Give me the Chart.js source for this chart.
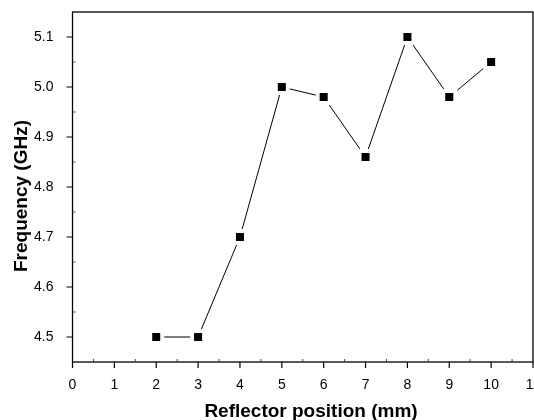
<!DOCTYPE html>
<html>
<head>
<meta charset="utf-8">
<script src="https://cdn.jsdelivr.net/npm/chart.js@4.4.0/dist/chart.umd.min.js"></script>
<style>
    html, body { margin: 0; padding: 0; background: #fff; }
    #grafica { display: block; }
</style>
</head>
<body>
<canvas id="grafica" width="534" height="420"></canvas>
<script>
// Datos
const posiciones = [2, 3, 4, 5, 6, 7, 8, 9, 10];
const frecuencias = [4.5, 4.5, 4.7, 5.0, 4.98, 4.86, 5.1, 4.98, 5.05];
const xTicks = [0, 1, 2, 3, 4, 5, 6, 7, 8, 9, 10, 11];
const yTicks = [4.5, 4.6, 4.7, 4.8, 4.9, 5.0, 5.1];
const xTitulo = 'Reflector position (mm)';
const yTitulo = 'Frequency (GHz)';

const fuente = '"Liberation Sans", Arial, sans-serif';

// Marco, marcas de los ejes y títulos
const marcoPlugin = {
    id: 'marco',
    afterDatasetsDraw(chart) {
        const { ctx, chartArea: a, scales: { x, y } } = chart;
        ctx.save();
        ctx.strokeStyle = '#000';
        ctx.lineWidth = 1.3;
        ctx.strokeRect(a.left, a.top, a.right - a.left, a.bottom - a.top);

        ctx.lineWidth = 1.2;
        ctx.beginPath();
        xTicks.forEach(v => {
            const px = x.getPixelForValue(v);
            ctx.moveTo(px, a.bottom);
            ctx.lineTo(px, a.bottom + 6);
        });
        yTicks.forEach(v => {
            const py = y.getPixelForValue(v);
            ctx.moveTo(a.left, py);
            ctx.lineTo(a.left - 6, py);
        });
        ctx.stroke();

        // marcas menores hacia dentro
        ctx.lineWidth = 1;
        ctx.strokeStyle = '#444';
        ctx.beginPath();
        for (let i = 0; i < xTicks.length - 1; i++) {
            const px = x.getPixelForValue((xTicks[i] + xTicks[i + 1]) / 2);
            ctx.moveTo(px, a.bottom);
            ctx.lineTo(px, a.bottom - 3);
        }
        const yMenores = [4.45, 4.55, 4.65, 4.75, 4.85, 4.95, 5.05, 5.15];
        yMenores.forEach(v => {
            const py = y.getPixelForValue(v);
            ctx.moveTo(a.left, py);
            ctx.lineTo(a.left + 3, py);
        });
        ctx.stroke();

        ctx.fillStyle = '#000';
        ctx.font = 'bold 19px ' + fuente;
        ctx.textAlign = 'center';
        ctx.textBaseline = 'alphabetic';
        ctx.fillText(xTitulo, 311, 417);

        ctx.translate(27, 196);
        ctx.rotate(-Math.PI / 2);
        ctx.fillText(yTitulo, 0, 0);
        ctx.restore();
    }
};

const ctx = document.getElementById('grafica').getContext('2d');
new Chart(ctx, {
    type: 'line',
    data: {
        datasets: [{
            data: posiciones.map((p, i) => ({ x: p, y: frecuencias[i] })),
            borderColor: '#000',
            borderWidth: 1,
            backgroundColor: '#000',
            pointStyle: 'rect',
            pointRadius: 8.5,
            pointBackgroundColor: '#000',
            pointBorderColor: '#fff',
            pointBorderWidth: 4,
            tension: 0
        }]
    },
    options: {
        responsive: false,
        animation: false,
        events: [],
        layout: { autoPadding: false, padding: { top: 12, right: 1, left: 0, bottom: 0 } },
        plugins: {
            legend: { display: false },
            tooltip: { enabled: false }
        },
        scales: {
            x: {
                type: 'linear',
                min: 0,
                max: 11,
                grid: { display: false },
                border: { display: false },
                afterBuildTicks: scale => { scale.ticks = xTicks.map(v => ({ value: v })); },
                afterFit: scale => {
                    scale.height = 58;
                    scale.paddingLeft = 0;
                    scale.paddingRight = 0;
                },
                ticks: {
                    autoSkip: false,
                    maxRotation: 0,
                    padding: 7,
                    color: '#000',
                    font: { family: fuente, size: 14 },
                    callback: v => String(v)
                }
            },
            y: {
                type: 'linear',
                min: 4.45,
                max: 5.15,
                grid: { display: false },
                border: { display: false },
                afterBuildTicks: scale => { scale.ticks = yTicks.map(v => ({ value: v })); },
                afterFit: scale => {
                    scale.width = 72.5;
                    scale.paddingTop = 0;
                    scale.paddingBottom = 0;
                },
                ticks: {
                    autoSkip: false,
                    padding: 11,
                    color: '#000',
                    font: { family: fuente, size: 14 },
                    callback: v => Number(v).toFixed(1)
                }
            }
        }
    },
    plugins: [marcoPlugin]
});
</script>
</body>
</html>
